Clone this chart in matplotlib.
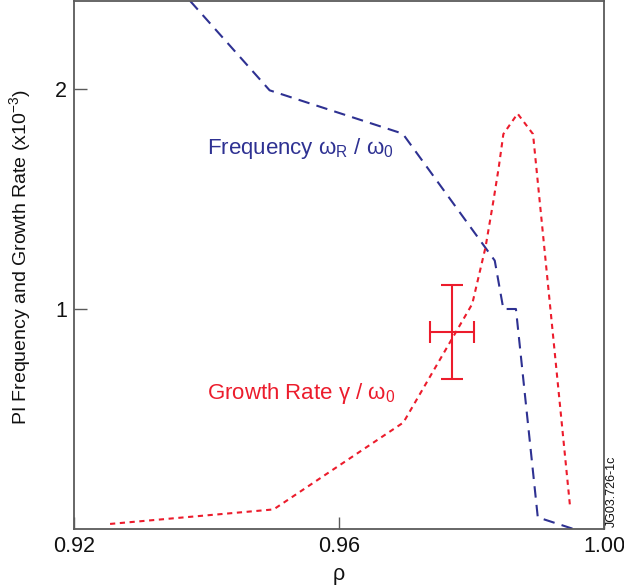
import matplotlib
matplotlib.use("Agg")
import matplotlib.pyplot as plt

plt.rcParams['font.family'] = ['Liberation Sans', 'DejaVu Sans']
plt.rcParams['mathtext.fontset'] = 'custom'
plt.rcParams['mathtext.rm'] = 'Liberation Sans'
plt.rcParams['mathtext.it'] = 'Liberation Sans'

# Data
freq_rho = [0.9375, 0.9495, 0.9696, 0.9835, 0.9848, 0.9867, 0.9900, 0.9954]
freq_val = [2.40, 1.994, 1.797, 1.22, 1.00, 1.00, 0.053, 0.0]

growth_rho = [0.9254, 0.9501, 0.9697, 0.9801, 0.9821, 0.9833, 0.9841, 0.9848, 0.98695, 0.98928, 0.9949]
growth_val = [0.023, 0.089, 0.484, 1.023, 1.280, 1.492, 1.643, 1.795, 1.888, 1.795, 0.094]

meas_rho = [0.97707]
meas_val = [0.895]
meas_xerr = [0.00335]
meas_yerr = [0.215]

xticks = [0.92, 0.96, 1.00]
xticklabels = ['0.92', '0.96', '1.00']
yticks = [1, 2]
yticklabels = ['1', '2']

blue = '#2e3192'
red = '#ec1c2c'
spine = '#5a5a5a'

fig = plt.figure(figsize=(6.24, 5.88), dpi=100)
ax = fig.add_axes([74.3/624, 1 - 529/588, (604 - 74.3)/624, 528/588])

ax.plot(freq_rho, freq_val, color=blue, lw=1.5, linestyle=(0, (5.5, 3.5)))
ax.plot(growth_rho, growth_val, color=red, lw=1.5, linestyle=(0, (2.5, 2.2)))
ax.errorbar(meas_rho, meas_val, xerr=meas_xerr, yerr=meas_yerr, fmt='none',
            ecolor=red, elinewidth=1.5, capsize=8, capthick=1.5)

ax.set_xlim(0.92, 1.00)
ax.set_ylim(0, 2.4)
ax.set_xticks(xticks)
ax.set_xticklabels(xticklabels)
ax.set_yticks(yticks)
ax.set_yticklabels(yticklabels)
ax.tick_params(direction='in', length=9, width=1, labelsize=15.5, pad=5)
ax.tick_params(axis='both', colors=spine, labelcolor='#111111')
for s in ax.spines.values():
    s.set_color(spine)
    s.set_linewidth(1.3)

ax.set_xlabel('ρ', fontsize=15.5, labelpad=5, color='#111111')
ax.set_ylabel('PI Frequency and Growth Rate (x10$^{-3}$)', fontsize=14, color='#111111')
ax.yaxis.set_label_coords(-0.078, 0.515)

ax.text(0.9401, 1.73, r'Frequency $\omega_\mathrm{R}$ / $\omega_0$', color=blue, fontsize=16, va='center', ha='left')
ax.text(0.9401, 0.617, r'Growth Rate $\gamma$ / $\omega_0$', color=red, fontsize=16, va='center', ha='left')

fig.text(612/624, 1 - 527/588, 'JG03.726-1c', rotation=90, fontsize=9, ha='center', va='bottom', color='#111111')

fig.savefig('out.png', dpi=100)
